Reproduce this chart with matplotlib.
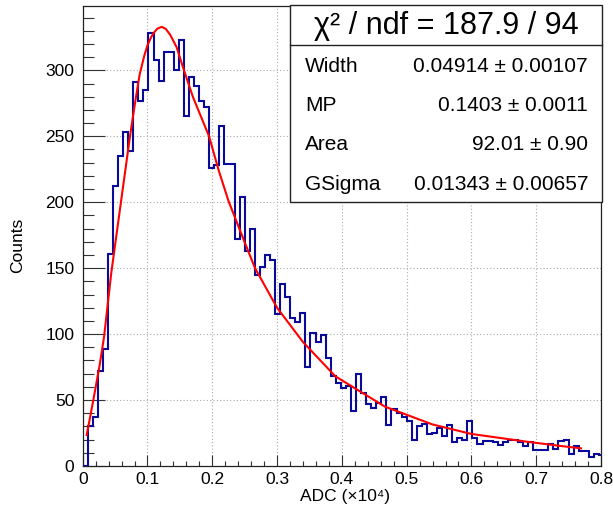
import matplotlib
matplotlib.use("Agg")
import matplotlib.pyplot as plt
import numpy as np
from matplotlib.ticker import MultipleLocator
from matplotlib.patches import Rectangle
from matplotlib.lines import Line2D

# ---------------- data ----------------
bin_width = 1.0 / 128.0  # x10^4 ADC
counts = [0,
          30, 37, 72, 89, 161, 212, 235, 253, 239, 291, 277, 285, 328, 308, 292,
          314, 314, 300, 323, 265, 295, 288, 277, 272, 226, 228, 258, 229, 229, 172, 204,
          163, 180, 145, 151, 160, 156, 115, 138, 128, 112, 109, 116, 75, 101, 94, 99, 82, 68,
          63, 59, 61, 42, 70, 55, 47, 44, 48, 52, 31, 43, 40, 37, 34, 20, 30, 32, 24,
          25, 29, 23, 31, 18, 21, 20,
          34, 21, 17, 19, 19, 18, 16, 18, 20, 20, 18, 15, 18, 12, 12, 12, 17, 13, 19, 20,
          9, 15, 11, 11, 7, 9, 8]

fit_x = [0.0062, 0.0164, 0.026, 0.033, 0.044, 0.059, 0.073, 0.081, 0.088, 0.095,
         0.100, 0.105, 0.109, 0.115, 0.122, 0.128, 0.135, 0.145, 0.155, 0.170,
         0.195, 0.210, 0.225, 0.2505, 0.266, 0.300, 0.340, 0.390, 0.4665, 0.540, 0.600,
         0.686, 0.734, 0.769]
fit_y = [23.5, 50, 76, 98, 146, 200, 250, 276, 297, 311,
         319, 324.5, 328, 331.5, 333, 331.5, 327, 317.5, 302, 280,
         250, 224, 201, 169, 150, 120, 94, 68, 45, 31.5, 24.3,
         18.4, 15.4, 13.4]

x_ticks = [0, 0.1, 0.2, 0.3, 0.4, 0.5, 0.6, 0.7, 0.8]
x_ticklabels = ["0", "0.1", "0.2", "0.3", "0.4", "0.5", "0.6", "0.7", "0.8"]
y_ticks = [0, 50, 100, 150, 200, 250, 300]
y_ticklabels = ["0", "50", "100", "150", "200", "250", "300"]

stat_names = ["Width", "MP", "Area", "GSigma"]
stat_values = ["0.04914 \u00b1 0.00107", "0.1403 \u00b1 0.0011",
               "92.01 \u00b1 0.90", "0.01343 \u00b1 0.00657"]
chi2_text = "\u03c7\u00b2 / ndf = 187.9 / 94"

# ---------------- figure ----------------
plt.rcParams['font.family'] = ['Liberation Sans', 'DejaVu Sans']
W, H = 613, 513
fig = plt.figure(figsize=(W / 100, H / 100), dpi=100)

def fx(px):
    return px / W

def fy(py):
    return 1 - py / H

x0p, x1p, y0p, y1p = 82.7, 601.0, 466.0, 5.7
ax = fig.add_axes([fx(x0p), fy(y0p), fx(x1p) - fx(x0p), fy(y1p) - fy(y0p)])

edges = np.arange(len(counts) + 1) * bin_width
ax.stairs(counts, edges, color="#0a0a99", linewidth=1.5, baseline=0, zorder=3)
ax.plot(fit_x, fit_y, color="#ff0000", linewidth=1.5, zorder=4,
        solid_joinstyle='round')

ax.set_xlim(0, 0.8)
ax.set_ylim(0, 349)

ax.set_xticks(x_ticks)
ax.set_xticklabels(x_ticklabels)
ax.set_yticks(y_ticks)
ax.set_yticklabels(y_ticklabels)
ax.xaxis.set_minor_locator(MultipleLocator(0.02))
ax.yaxis.set_minor_locator(MultipleLocator(10))

ax.tick_params(axis='x', which='major', direction='in', length=7.9, width=0.8,
               color='#333333', labelsize=12.5, pad=4)
ax.tick_params(axis='x', which='minor', direction='in', length=3.6, width=0.8,
               color='#333333')
ax.tick_params(axis='y', which='major', direction='in', length=15.8, width=0.8,
               color='#333333', labelsize=12.5, pad=6)
ax.tick_params(axis='y', which='minor', direction='in', length=7.9, width=0.8,
               color='#333333')

ax.grid(True, which='major', color='#aaaaaa', linestyle=(0, (1, 2)), linewidth=0.8)
ax.set_axisbelow(True)
for s in ax.spines.values():
    s.set_color('#222222')
    s.set_linewidth(0.9)

fig.text(fx(345), fy(497), "ADC (\u00d710\u2074)", ha='center', va='center', fontsize=12.5)
fig.text(fx(18), fy(245), "Counts", ha='center', va='center', rotation=90, fontsize=12.5)

# ---------------- stats box ----------------
bx0, bx1, by0, by1 = 290, 602, 5, 202
sep = 44.5
fig.add_artist(Rectangle((fx(bx0), fy(by1)), fx(bx1) - fx(bx0), fy(by0) - fy(by1),
                         transform=fig.transFigure, facecolor='white',
                         edgecolor='#222222', linewidth=1.0, zorder=5))
fig.add_artist(Line2D([fx(bx0), fx(bx1)], [fy(sep), fy(sep)], transform=fig.transFigure,
                      color='#222222', linewidth=1.0, zorder=6))
fig.text(fx((bx0 + bx1) / 2), fy((by0 + sep) / 2 + 1), chi2_text, ha='center', va='center',
         fontsize=22, zorder=7)
row_h = (by1 - sep) / 4
for i, (n, v) in enumerate(zip(stat_names, stat_values)):
    yc = sep + row_h * (i + 0.5) + 2
    fig.text(fx(305), fy(yc), n, ha='left', va='center', fontsize=15, zorder=7)
    fig.text(fx(588), fy(yc), v, ha='right', va='center', fontsize=15, zorder=7)

fig.savefig("out.png", dpi=100)
